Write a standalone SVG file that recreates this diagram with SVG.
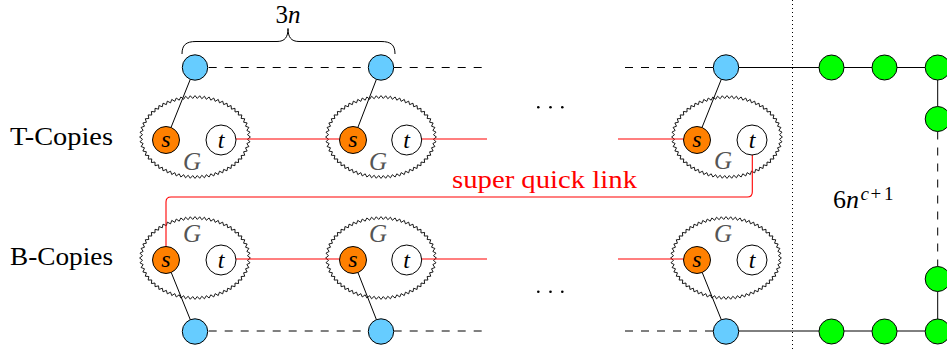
<svg xmlns="http://www.w3.org/2000/svg" width="947" height="352" viewBox="0 0 947 352">
<style>
.ln{stroke:#000;stroke-width:1;fill:none}
.dash{stroke:#000;stroke-width:1;fill:none;stroke-dasharray:8 8}
.red{stroke:#ff0000;stroke-width:1.1;fill:none}
.blue{fill:#66ccff;stroke:#000;stroke-width:1}
.green{fill:#00ff00;stroke:#000;stroke-width:1}
.s{fill:#ff8000;stroke:#000;stroke-width:1}
.t{fill:#fff;stroke:#000;stroke-width:1}
.wv{fill:none;stroke:#000;stroke-width:0.9;stroke-linejoin:round}
.m{font-family:"Liberation Serif","DejaVu Serif",serif;font-style:italic;font-size:24px;fill:#000;text-anchor:middle}
.g{font-family:"Liberation Serif","DejaVu Serif",serif;font-style:italic;font-size:25px;fill:#555;text-anchor:middle}
.lbl{font-family:"Liberation Serif","DejaVu Serif",serif;font-size:25px;fill:#000}
</style>
<defs>
<path id="q" class="wv" d="M55.4,0 L52.51,2.21 L55.02,4.83 L51.83,6.57 L53.91,9.54 L50.50,10.79 L52.13,14.04 L48.58,14.79 L49.75,18.23 L46.13,18.52 L46.89,22.07 L43.25,21.95 L43.61,25.56 L40.00,25.05 L39.97,28.69 L36.44,27.82 L36.07,31.44 L32.66,30.24 L31.97,33.82 L28.65,32.36 L27.68,35.87 L24.48,34.15 L23.25,37.58 L20.19,35.64 L18.72,38.97 L15.80,36.81 L14.11,40.04 L11.33,37.69 L9.44,40.80 L6.82,38.27 L4.73,41.25 L2.28,38.56 L0,41.4"/>
<g id="wavy">
<use href="#q"/>
<use href="#q" transform="scale(-1,1)"/>
<use href="#q" transform="scale(1,-1)"/>
<use href="#q" transform="scale(-1,-1)"/>
</g>
</defs>

<!-- labels -->
<text class="lbl" x="10" y="145" textLength="103" lengthAdjust="spacingAndGlyphs">T-Copies</text>
<text class="lbl" x="10" y="265" textLength="103" lengthAdjust="spacingAndGlyphs">B-Copies</text>

<!-- brace and 3n -->
<g id="brace">
<path class="ln" d="M182,54 C182,45 186,41.5 196,41.5 H277 C285,41.5 288,37 288,28.5 C288,37 291,41.5 299,41.5 H381 C391,41.5 395,45 395,54"/>
<text class="m" x="288" y="23" style="font-size:25px"><tspan font-style="normal">3</tspan>n</text>
</g>

<!-- dotted separator -->
<path d="M792.5,0 V352" stroke="#000" stroke-width="1" stroke-dasharray="1 3" fill="none"/>

<!-- copies (wavy G regions) -->
<g id="T1"><use href="#wavy" transform="translate(195,137)"/><text class="g" x="192" y="170">G</text></g>
<g id="T2"><use href="#wavy" transform="translate(381,137)"/><text class="g" x="378" y="170">G</text></g>
<g id="T3"><use href="#wavy" transform="translate(727,137)"/><text class="g" x="723" y="169">G</text></g>
<g id="B1"><use href="#wavy" transform="translate(195,258)"/><text class="g" x="192" y="242">G</text></g>
<g id="B2"><use href="#wavy" transform="translate(381,258)"/><text class="g" x="378" y="242">G</text></g>
<g id="B3"><use href="#wavy" transform="translate(726,258)"/><text class="g" x="723" y="242">G</text></g>

<!-- connectors -->
<g id="connectors">
<path class="ln" d="M190.3,79.3 L171,127.5 M376.4,79.4 L357.9,127.4 M721.3,79.3 L702,127.5"/>
<path class="ln" d="M190.3,319.7 L171.2,272.4 M376.4,319.6 L357.9,272.4 M721.3,319.7 L702.2,272.4"/>
<path class="dash" d="M208.7,67.5 H368.3 M393.7,67.5 H487 M625,67.5 H713.3"/>
<path class="dash" d="M208.7,331 H368.3 M393.7,331 H487 M625,331 H713.3"/>
<path class="ln" d="M738.7,67.5 H819 M844,67.5 H872 M897,67.5 H925.2 M937.7,80 V106.5 M937.7,291.5 V319 M738.7,331 H819 M844,331 H872 M897,331 H925.2"/>
<path class="dash" d="M937.7,131.5 V266.5"/>
<path class="red" d="M236,139 H339.5 M421.5,139 H487 M618,139 H683.5"/>
<path class="red" d="M236,259 H339.5 M421.5,259 H487 M618,259 H683.5"/>
<path class="red" d="M752.3,155 V192 Q752.3,197 747.3,197 H171 Q166,197 166,202 V246.5"/>
<text x="544.5" y="188" textLength="185" lengthAdjust="spacingAndGlyphs" style="font-family:'Liberation Serif','DejaVu Serif',serif;font-size:25px;fill:#ff0000;text-anchor:middle">super quick link</text>
</g>

<!-- blue nodes -->
<g id="bt1"><circle class="blue" cx="195" cy="67.5" r="12.7"/></g>
<g id="bt2"><circle class="blue" cx="381" cy="67.5" r="12.7"/></g>
<g id="bt3"><circle class="blue" cx="726" cy="67.5" r="12.7"/></g>
<g id="bb1"><circle class="blue" cx="195" cy="331.5" r="12.7"/></g>
<g id="bb2"><circle class="blue" cx="381" cy="331.5" r="12.7"/></g>
<g id="bb3"><circle class="blue" cx="726" cy="331.5" r="12.7"/></g>

<!-- green nodes -->
<g id="g1"><circle class="green" cx="831.5" cy="67.5" r="12.5"/></g>
<g id="g2"><circle class="green" cx="884.5" cy="67.5" r="12.5"/></g>
<g id="g3"><circle class="green" cx="937.7" cy="67.5" r="12.5"/></g>
<g id="g4"><circle class="green" cx="937.7" cy="119" r="12.5"/></g>
<g id="g5"><circle class="green" cx="937.7" cy="279" r="12.5"/></g>
<g id="g6"><circle class="green" cx="831.5" cy="331.5" r="12.5"/></g>
<g id="g7"><circle class="green" cx="884.5" cy="331.5" r="12.5"/></g>
<g id="g8"><circle class="green" cx="937.7" cy="331.5" r="12.5"/></g>

<!-- s / t nodes top -->
<g id="s_t1"><circle class="s" cx="166" cy="140" r="13.5"/><text class="m" x="166" y="146.5">s</text></g>
<g id="t_t1"><circle class="t" cx="221" cy="140" r="15"/><text class="m" x="221" y="148">t</text></g>
<g id="s_t2"><circle class="s" cx="353" cy="140" r="13.5"/><text class="m" x="353" y="146.5">s</text></g>
<g id="t_t2"><circle class="t" cx="406.7" cy="140" r="15"/><text class="m" x="406.7" y="148">t</text></g>
<g id="s_t3"><circle class="s" cx="697" cy="140" r="13.5"/><text class="m" x="697" y="146.5">s</text></g>
<g id="t_t3"><circle class="t" cx="752" cy="140" r="15"/><text class="m" x="752" y="148">t</text></g>
<!-- s / t nodes bottom -->
<g id="s_b1"><circle class="s" cx="166" cy="260" r="13.5"/><text class="m" x="166" y="266.5">s</text></g>
<g id="t_b1"><circle class="t" cx="221" cy="260" r="15"/><text class="m" x="221" y="268">t</text></g>
<g id="s_b2"><circle class="s" cx="353" cy="260" r="13.5"/><text class="m" x="353" y="266.5">s</text></g>
<g id="t_b2"><circle class="t" cx="406.7" cy="260" r="15"/><text class="m" x="406.7" y="268">t</text></g>
<g id="s_b3"><circle class="s" cx="697" cy="260" r="13.5"/><text class="m" x="697" y="266.5">s</text></g>
<g id="t_b3"><circle class="t" cx="752" cy="260" r="15"/><text class="m" x="752" y="268">t</text></g>

<!-- ellipses (dots) -->
<g id="dots">
<circle cx="538.3" cy="107.3" r="1.3"/><circle cx="550.5" cy="107.3" r="1.3"/><circle cx="562.3" cy="107.3" r="1.3"/>
<circle cx="538.3" cy="291.7" r="1.3"/><circle cx="550.5" cy="291.7" r="1.3"/><circle cx="562.3" cy="291.7" r="1.3"/>
</g>

<!-- 6n^{c+1} -->
<text x="833" y="207.5" style="font-family:'Liberation Serif','DejaVu Serif',serif;font-size:26px;fill:#000">6<tspan font-style="italic">n</tspan><tspan x="860.5" dy="-8" font-style="italic" font-size="19">c</tspan><tspan x="870.5" font-size="19">+</tspan><tspan x="884" font-size="19">1</tspan></text>
</svg>
